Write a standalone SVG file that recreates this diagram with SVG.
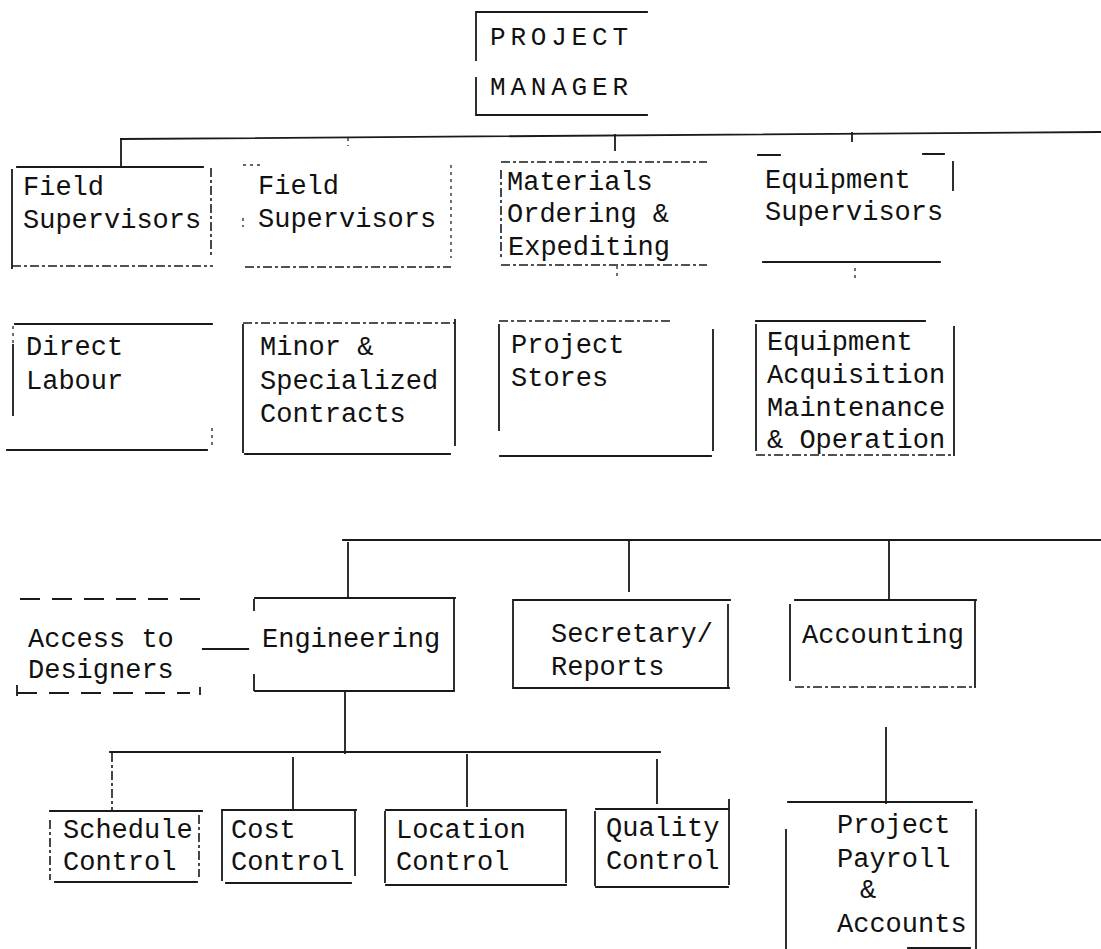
<svg xmlns="http://www.w3.org/2000/svg" width="1101" height="949" viewBox="0 0 1101 949">
<style>
.ln{fill:none;stroke:#1a1a1a;stroke-width:1.8;stroke-linecap:square}
.dsh{fill:none;stroke:#1a1a1a;stroke-width:1.6;stroke-dasharray:9 3 3 3}
.dot{fill:none;stroke:#333;stroke-width:1.4;stroke-dasharray:3 4}
.ld{fill:none;stroke:#1a1a1a;stroke-width:2;stroke-dasharray:20 12}
text{font-family:"Liberation Mono","Courier New",monospace;font-size:27px;fill:#111}
.pm{letter-spacing:4.8px;font-size:26px}
</style>
<rect width="1101" height="949" fill="#fff"/>
<g id="connectors">
<path class="ln" d="M121,139 L1101,132"/>
<path class="ln" d="M121,139 V167"/>
<path class="dot" d="M348,138 V146"/>
<path class="ln" d="M615,135 V150"/>
<path class="ln" d="M852,133 V141"/>
<path class="dot" d="M617,266 V277"/>
<path class="dot" d="M855,268 V279"/>
<path class="ln" d="M343,540 H1101"/>
<path class="ln" d="M348,543 V598"/>
<path class="ln" d="M629,541 V591"/>
<path class="ln" d="M889,541 V600"/>
<path class="ln" d="M203,649 H248" style="stroke-width:2.2"/>
<path class="ln" d="M345,692 V753"/>
<path class="ln" d="M110,752 H660"/>
<path class="dsh" d="M112,753 V810"/>
<path class="ln" d="M293,758 V808"/>
<path class="ln" d="M467,755 V806"/>
<path class="ln" d="M657,760 V803"/>
<path class="ln" d="M886,728 V803"/>
</g>
<g id="project-manager">
<path class="ln" d="M476,12 H647 M476,12 V60 M476,78 V115 H647"/>
<text class="pm" x="490" y="45">PROJECT</text>
<text class="pm" x="490" y="95">MANAGER</text>
</g>
<g id="field-supervisors-1">
<path class="ln" d="M17,167 H203 M12,170 V268"/>
<path class="dsh" d="M211,168 V256 M12,266 H213"/>
<text x="23" y="195">Field</text>
<text x="23" y="228">Supervisors</text>
</g>
<g id="field-supervisors-2">
<path class="dot" d="M243,165 H262 M451,165 V258 M243,218 V227"/>
<path class="dsh" d="M245,267 H451"/>
<text x="258" y="194">Field</text>
<text x="258" y="227">Supervisors</text>
</g>
<g id="materials">
<path class="dsh" d="M501,162 H707 M501,170 V258 M501,265 H707"/>
<text x="507" y="190">Materials</text>
<text x="507" y="222">Ordering &amp;</text>
<text x="508" y="255">Expediting</text>
</g>
<g id="equipment-supervisors">
<path class="ln" d="M758,155 H780 M923,154 H944 M953,162 V190 M763,262 H940"/>
<text x="765" y="188">Equipment</text>
<text x="765" y="220">Supervisors</text>
</g>
<g id="direct-labour">
<path class="ln" d="M15,324 H212 M13,345 V415 M7,450 H207"/>
<path class="dot" d="M13,326 V344 M212,428 V445"/>
<text x="26" y="355">Direct</text>
<text x="26" y="389">Labour</text>
</g>
<g id="minor-contracts">
<path class="dsh" d="M243,323 H455"/>
<path class="ln" d="M243,325 V452 M455,320 V445 M245,454 H450"/>
<text x="260" y="355">Minor &amp;</text>
<text x="260" y="389">Specialized</text>
<text x="260" y="422">Contracts</text>
</g>
<g id="project-stores">
<path class="dsh" d="M499,321 H672"/>
<path class="ln" d="M499,325 V430 M713,330 V450 M500,456 H711"/>
<text x="511" y="353">Project</text>
<text x="511" y="386">Stores</text>
</g>
<g id="equipment-acquisition">
<path class="ln" d="M756,321 H925 M756,325 V450 M954,327 V455"/>
<path class="dsh" d="M756,455 H951"/>
<text x="767" y="350">Equipment</text>
<text x="767" y="383">Acquisition</text>
<text x="767" y="416">Maintenance</text>
<text x="767" y="448">&amp; Operation</text>
</g>
<g id="access-to-designers">
<path class="ld" d="M20,599 H203 M17,693 H190"/>
<path class="ln" d="M17,686 V695 M200,688 V694"/>
<text x="28" y="647">Access to</text>
<text x="28" y="678">Designers</text>
</g>
<g id="engineering">
<path class="ln" d="M255,598 H455 M454,600 V691 M255,691 H454 M254,600 V610 M254,675 V690"/>
<text x="262" y="647">Engineering</text>
</g>
<g id="secretary-reports">
<path class="ln" d="M513,600 H730 M513,600 V688 M728,605 V688 M513,688 H729"/>
<text x="551" y="642">Secretary/</text>
<text x="551" y="675">Reports</text>
</g>
<g id="accounting">
<path class="ln" d="M795,600 H976 M790,605 V680 M975,602 V687"/>
<path class="dsh" d="M795,687 H975"/>
<text x="802" y="643">Accounting</text>
</g>
<g id="schedule-control">
<path class="ln" d="M50,811 H202 M55,882 H197"/>
<path class="dsh" d="M50,820 V880 M199,815 V877"/>
<text x="63" y="838">Schedule</text>
<text x="63" y="870">Control</text>
</g>
<g id="cost-control">
<path class="ln" d="M222,810 H356 M222,812 V880 M355,810 V875 M226,883 H351"/>
<text x="231" y="838">Cost</text>
<text x="231" y="870">Control</text>
</g>
<g id="location-control">
<path class="ln" d="M386,810 H566 M385,812 V882 M566,812 V882 M386,885 H566"/>
<text x="396" y="838">Location</text>
<text x="396" y="870">Control</text>
</g>
<g id="quality-control">
<path class="ln" d="M596,809 H729 M595,812 V885 M729,800 V884 M596,887 H728"/>
<text x="606" y="836">Quality</text>
<text x="606" y="869">Control</text>
</g>
<g id="project-payroll">
<path class="ln" d="M788,802 H972 M786,830 V949 M976,810 V948 M908,948 H970"/>
<text x="837" y="833">Project</text>
<text x="837" y="867">Payroll</text>
<text x="860" y="898">&amp;</text>
<text x="837" y="932">Accounts</text>
</g>
</svg>
